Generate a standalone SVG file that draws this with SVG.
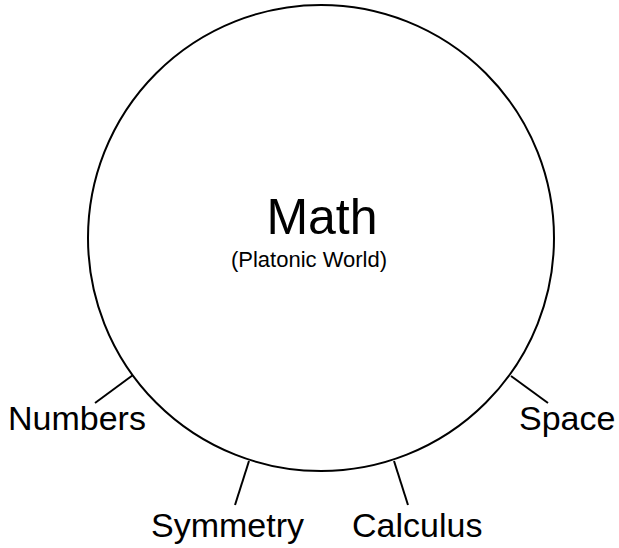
<svg xmlns="http://www.w3.org/2000/svg" width="619" height="548" viewBox="0 0 619 548">
<style>
.t{font-family:"Liberation Sans",Arial,sans-serif;fill:#000}
.l{stroke:#000;stroke-width:2;fill:none}
</style>
<rect width="619" height="548" fill="#fff"/>
<g id="math">
<circle cx="321" cy="238" r="233" fill="#fff" stroke="#000" stroke-width="2"/>
<text class="t" x="322" y="234" font-size="50" text-anchor="middle">Math</text>
<text class="t" x="309" y="267" font-size="22" text-anchor="middle">(Platonic World)</text>
</g>
<g id="connectors">
<line class="l" x1="133" y1="375" x2="95" y2="403"/>
<line class="l" x1="249" y1="461" x2="235" y2="505"/>
<line class="l" x1="394" y1="461" x2="408" y2="505"/>
<line class="l" x1="511" y1="376" x2="548" y2="403"/>
</g>
<g id="numbers"><text class="t" x="8" y="430" font-size="34">Numbers</text></g>
<g id="symmetry"><text class="t" x="151" y="537" font-size="34">Symmetry</text></g>
<g id="calculus"><text class="t" x="352" y="537" font-size="34">Calculus</text></g>
<g id="space"><text class="t" x="519" y="430" font-size="34">Space</text></g>
</svg>
